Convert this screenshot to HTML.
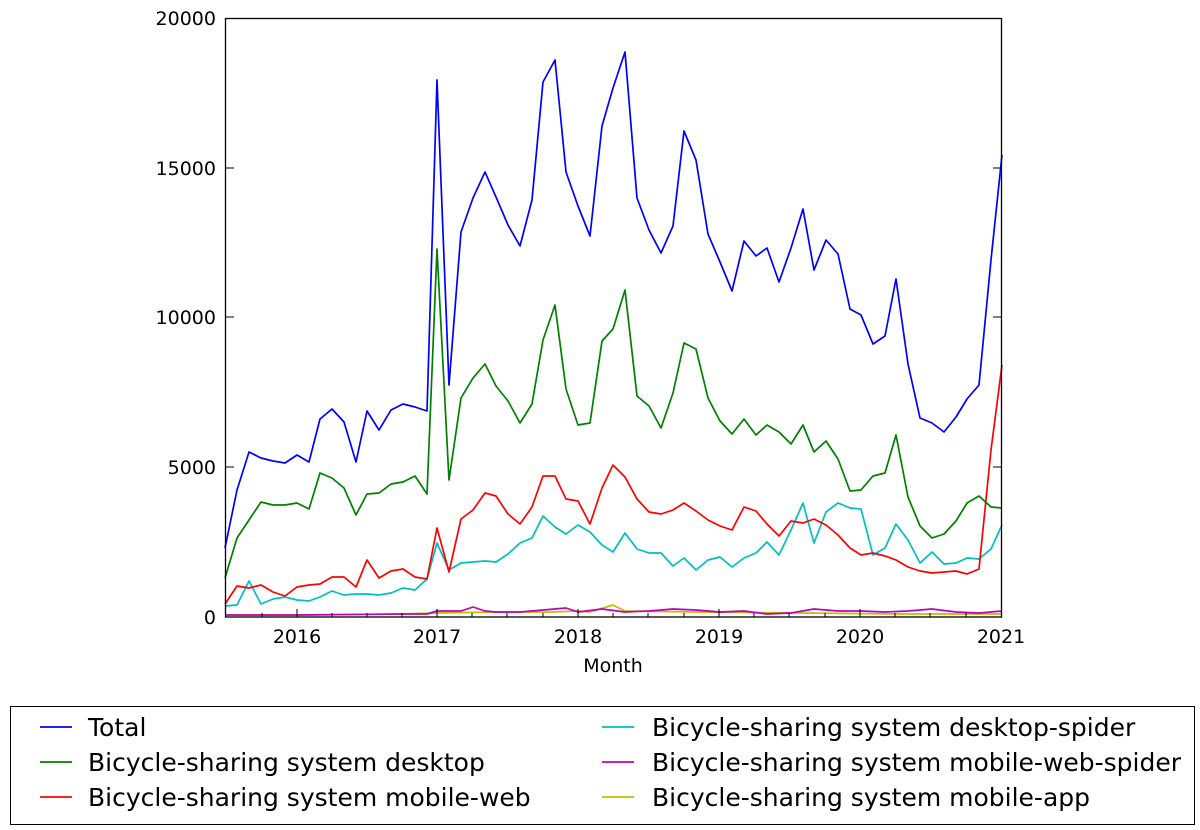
<!DOCTYPE html>
<html><head><meta charset="utf-8"><style>
html,body{margin:0;padding:0;background:#fff;}
svg{display:block;font-family:"DejaVu Sans","Liberation Sans",sans-serif;}
</style></head><body>
<svg width="1200" height="830" viewBox="0 0 1200 830" xmlns="http://www.w3.org/2000/svg">
<rect width="1200" height="830" fill="#fff"/>
<g fill="none" stroke-width="1.7" stroke-linejoin="round">
<polyline stroke="#bfbf00" points="225,615 300,615 400,614 437,613 500,612 550,612 578,611 590,612 613,605 625,611 700,612 800,613 900,614 1002,614"/>
<polyline stroke="#bf00bf" points="225,615 300,615 400,614 427,614 437,611 461,611 473,607 485,611 496,612 520,612 543,610 566,608 578,612 602,609 625,612 649,611 673,609 696,610 720,612 744,611 767,614 791,613 814,609 838,611 861,611 885,612 908,611 932,609 956,612 979,613 1002,611"/>
<polyline stroke="#00bfbf" points="225,606 237,605 249,581 261,604 273,599 285,597 297,600 309,601 320,597 332,591 344,595 356,594 367,594 379,595 391,593 403,588 415,590 427,579 437,543 449,570 461,563 473,562 485,561 496,562 508,554 520,543 532,538 543,516 555,527 566,534 578,525 590,532 602,545 613,552 625,533 637,549 649,553 661,553 673,566 684,558 696,570 708,560 720,557 732,567 744,558 756,553 767,542 779,555 791,530 803,503 814,543 826,512 838,503 850,508 861,509 873,555 885,548 896,524 908,540 920,563 932,552 944,564 956,563 967,558 979,559 991,549 1002,525"/>
<polyline stroke="#ff0000" points="225,604 237,586 249,588 261,585 273,592 285,596 297,587 309,585 320,584 332,577 344,577 356,587 367,560 379,578 391,571 403,569 415,577 427,579 437,528 449,572 461,519 473,510 485,493 496,496 508,514 520,524 532,507 543,476 555,476 566,499 578,501 590,524 602,488 613,465 625,477 637,499 649,512 661,514 673,510 684,503 696,511 708,520 720,526 732,530 744,507 756,511 767,524 779,536 791,521 803,523 814,519 826,525 838,535 850,548 861,555 873,553 885,556 896,560 908,567 920,571 932,573 944,572 956,571 967,574 979,569 991,450 1002,365"/>
<polyline stroke="#008000" points="225,578 237,538 249,520 261,502 273,505 285,505 297,503 309,509 320,473 332,478 344,488 356,515 367,494 379,493 391,484 403,482 415,476 427,494 437,249 449,480 461,398 473,378 485,364 496,386 508,401 520,423 532,404 543,340 555,305 566,389 578,425 590,423 602,341 613,329 625,290 637,396 649,406 661,428 673,393 684,343 696,349 708,398 720,421 732,434 744,419 756,435 767,425 779,432 791,444 803,425 814,452 826,441 838,459 850,491 861,490 873,476 885,473 896,435 908,497 920,526 932,538 944,534 956,521 967,503 979,496 991,507 1002,508"/>
<polyline stroke="#0000ff" points="225,548 237,490 249,452 261,458 273,461 285,463 297,455 309,462 320,419 332,409 344,422 356,462 367,411 379,430 391,410 403,404 415,407 427,411 437,80 449,385 461,232 473,198 485,172 496,197 508,225 520,246 532,200 543,82 555,60 566,172 578,206 590,236 602,126 613,88 625,52 637,198 649,230 661,253 673,226 684,131 696,160 708,234 720,262 732,291 744,241 756,256 767,248 779,282 791,248 803,209 814,270 826,240 838,254 850,309 861,315 873,344 885,336 896,279 908,364 920,418 932,423 944,432 956,417 967,399 979,385 991,260 1002,155"/>
</g>
<rect x="225.5" y="18.5" width="776" height="598.5" fill="none" stroke="#000" stroke-width="1.3"/>
<g stroke="#000" stroke-width="1">
<line x1="297" y1="617" x2="297" y2="609"/><line x1="437" y1="617" x2="437" y2="609"/><line x1="578" y1="617" x2="578" y2="609"/><line x1="719" y1="617" x2="719" y2="609"/><line x1="860" y1="617" x2="860" y2="609"/>
<line x1="226" y1="467" x2="234" y2="467"/><line x1="226" y1="317" x2="234" y2="317"/><line x1="226" y1="168" x2="234" y2="168"/>
<line x1="1001" y1="467" x2="993" y2="467"/><line x1="1001" y1="317" x2="993" y2="317"/><line x1="1001" y1="168" x2="993" y2="168"/>
</g>
<g stroke="#000" stroke-width="1">
<line x1="262" y1="617" x2="262" y2="613"/><line x1="332" y1="617" x2="332" y2="613"/><line x1="367" y1="617" x2="367" y2="613"/><line x1="402" y1="617" x2="402" y2="613"/><line x1="472" y1="617" x2="472" y2="613"/><line x1="507" y1="617" x2="507" y2="613"/><line x1="543" y1="617" x2="543" y2="613"/><line x1="613" y1="617" x2="613" y2="613"/><line x1="648" y1="617" x2="648" y2="613"/><line x1="684" y1="617" x2="684" y2="613"/><line x1="754" y1="617" x2="754" y2="613"/><line x1="789" y1="617" x2="789" y2="613"/><line x1="825" y1="617" x2="825" y2="613"/><line x1="895" y1="617" x2="895" y2="613"/><line x1="930" y1="617" x2="930" y2="613"/><line x1="966" y1="617" x2="966" y2="613"/>
</g>
<g font-size="19" fill="#000" text-anchor="end">
<text x="216" y="624">0</text><text x="216" y="474">5000</text><text x="216" y="324">10000</text><text x="216" y="175">15000</text><text x="216" y="25">20000</text>
</g>
<g font-size="19" fill="#000" text-anchor="middle">
<text x="297" y="643">2016</text><text x="437" y="643">2017</text><text x="578" y="643">2018</text><text x="719" y="643">2019</text><text x="860" y="643">2020</text><text x="1001" y="643">2021</text>
<text x="613" y="672">Month</text>
</g>
<rect x="10.5" y="706.5" width="1184" height="118" fill="#fff" stroke="#000" stroke-width="1"/>
<g stroke-width="1.7">
<line x1="40" y1="727" x2="72" y2="727" stroke="#0000ff"/>
<line x1="40" y1="762" x2="72" y2="762" stroke="#008000"/>
<line x1="40" y1="797" x2="72" y2="797" stroke="#ff0000"/>
<line x1="602" y1="727" x2="634" y2="727" stroke="#00bfbf"/>
<line x1="602" y1="762" x2="634" y2="762" stroke="#bf00bf"/>
<line x1="602" y1="797" x2="634" y2="797" stroke="#bfbf00"/>
</g>
<g font-size="25" fill="#000">
<text x="88" y="736">Total</text>
<text x="88" y="771">Bicycle-sharing system desktop</text>
<text x="88" y="806">Bicycle-sharing system mobile-web</text>
<text x="652" y="736">Bicycle-sharing system desktop-spider</text>
<text x="652" y="771">Bicycle-sharing system mobile-web-spider</text>
<text x="652" y="806">Bicycle-sharing system mobile-app</text>
</g>
</svg>
</body></html>
